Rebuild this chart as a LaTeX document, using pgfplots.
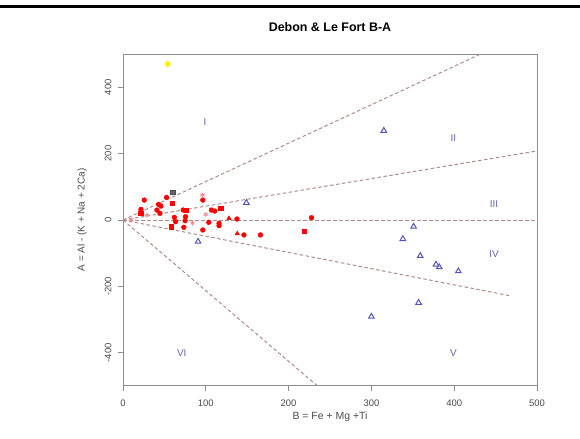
\documentclass[border=0pt]{standalone}
\usepackage{fontspec}
\setmainfont{Liberation Sans}
\usepackage{pgfplots}
\pgfplotsset{compat=1.18}
\definecolor{frame}{HTML}{8C8C8C}
\definecolor{ticktxt}{HTML}{4A4A4A}
\definecolor{divline}{HTML}{B08A8A}
\definecolor{zone}{HTML}{6464AC}
\definecolor{tri}{HTML}{5555B5}
\definecolor{pinkstar}{HTML}{E89090}
\begin{document}
\begin{tikzpicture}
\path[use as bounding box] (-123bp,-53bp) rectangle (457bp,386bp);
\draw[line width=2.6bp, black] (-123bp,379.5bp) -- (457bp,379.5bp);
\begin{axis}[
    scale only axis,
    width=414bp, height=332bp,
    xmin=0, xmax=500, ymin=-500, ymax=500,
    axis line style={frame, line width=1bp},
    tick style={frame, line width=0.9bp},
    tick align=outside,
    major tick length=5bp,
    tick pos=left,
    xtick={0,100,200,300,400,500},
    ytick={-400,-200,0,200,400},
    /pgf/number format/assume math mode=true,
    ticklabel style={font=\fontsize{9.5}{10}\selectfont, text=ticktxt},
    xticklabel style={anchor=center, yshift=-12bp},
    yticklabel style={xshift=-10bp, rotate=90, anchor=center},
    title={\textbf{Debon \& Le Fort B-A}},
    title style={font=\fontsize{12.5}{13}\selectfont, at={(axis description cs:0.5,1.063)}, anchor=center},
    xlabel={B = Fe + Mg +Ti},
    ylabel={A = Al - (K + Na + 2Ca)},
    label style={font=\fontsize{10}{10}\selectfont, text=ticktxt},
    xlabel style={font=\fontsize{10.5}{11}\selectfont, at={(axis description cs:0.5,-0.0934)}, anchor=center},
    ylabel style={at={(axis description cs:-0.099,0.5)}, anchor=center},
]
% division lines
\addplot[divline, line width=1bp, dash pattern=on 3.5bp off 2.5bp] coordinates {(0,0) (432,500)};
\addplot[divline, line width=1bp, dash pattern=on 3.5bp off 2.5bp] coordinates {(0,0) (500,208)};
\addplot[divline, line width=1bp, dash pattern=on 3.5bp off 2.5bp] coordinates {(0,0) (500,0)};
\addplot[divline, line width=1bp, dash pattern=on 3.5bp off 2.5bp] coordinates {(0,0) (469,-229)};
\addplot[divline, line width=1bp, dash pattern=on 3.5bp off 2.5bp] coordinates {(0,0) (235,-500)};

% red circles
\addplot[only marks, mark=*, mark size=2.4bp, mark options={draw=red, fill=red}] coordinates {
(25.7,60) (21.7,32) (43,47) (45.8,42) (52.6,68) (41,30) (44.6,20) (62,8)
(63.5,-5) (72.7,30) (75.5,10) (75,-2) (73.5,-22) (96.4,60) (103.6,-7)
(106.8,30) (110.8,27) (116,-10) (116,-17) (96.4,-30) (137.7,3) (146,-45)
(166,-45) (227.7,7)
};
% red squares
\addplot[only marks, mark=square*, mark size=2.1bp, mark options={draw=red, fill=red}] coordinates {
(21.3,20) (59.8,50) (58.6,-20) (76.7,30) (118,35) (218.5,-33)
};
% red triangles
\addplot[only marks, mark=triangle*, mark size=2.6bp, mark options={draw=red, fill=red}] coordinates {
(128,5) (138,-41)
};
% pink stars
\addplot[only marks, mark=asterisk, mark size=2.6bp, mark options={draw=pinkstar, line width=0.8bp}] coordinates {
(96,75) (100,17) (84,-9) (10,0) (29,15)
};
% gray boxed square
\addplot[only marks, mark=square*, mark size=2.2bp, mark options={draw=gray!60!black, fill=gray!80!black}] coordinates {
(60,84)
};
% yellow
\addplot[only marks, mark=diamond*, mark size=3.6bp, mark options={draw=yellow, fill=yellow}] coordinates {
(54,470)
};
% blue open triangles
\addplot[only marks, mark=triangle, mark size=3.2bp, mark options={draw=tri, line width=1bp}] coordinates {
(149,52) (315,269) (90.7,-65) (351,-20) (338,-57) (359,-108) (378,-134)
(382,-142) (405,-154) (357,-249) (300,-291)
};

% zone labels
\begin{scope}[every node/.style={text=zone, font=\fontsize{10}{10}\selectfont}]
\node at (axis cs:99,295) {I};
\node at (axis cs:399,247) {II};
\node at (axis cs:448,48) {III};
\node at (axis cs:448,-102) {IV};
\node at (axis cs:399,-400) {V};
\node at (axis cs:71,-400) {VI};
\end{scope}
\end{axis}
\end{tikzpicture}
\end{document}
